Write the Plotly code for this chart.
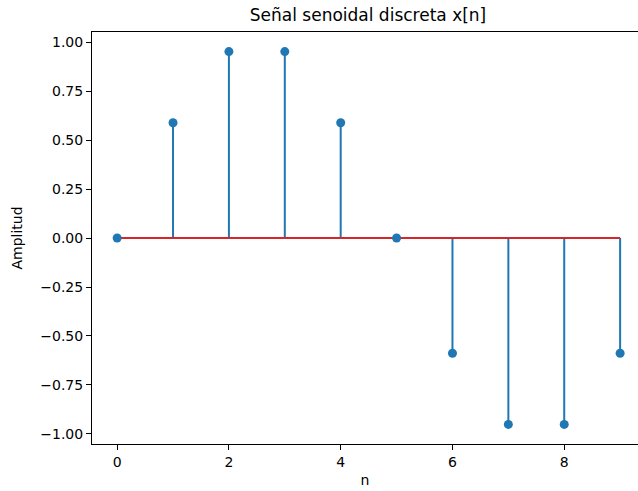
import plotly.graph_objects as go

# Discrete sinusoid samples x[n]
n = [0, 1, 2, 3, 4, 5, 6, 7, 8, 9]
x_n = [0.0, 0.588, 0.951, 0.951, 0.588, 0.0, -0.588, -0.951, -0.951, -0.588]

blue = "#1f77b4"
red = "#d62728"

# Vertical stems from the baseline to each sample
stem_x, stem_y = [], []
for xi, yi in zip(n, x_n):
    stem_x += [xi, xi, None]
    stem_y += [0, yi, None]

fig = go.Figure()
fig.add_trace(go.Scatter(x=stem_x, y=stem_y, mode="lines",
                         line=dict(color=blue, width=2), hoverinfo="skip"))
fig.add_trace(go.Scatter(x=[n[0], n[-1]], y=[0, 0], mode="lines",
                         line=dict(color=red, width=2), hoverinfo="skip"))
fig.add_trace(go.Scatter(x=n, y=x_n, mode="markers",
                         marker=dict(color=blue, size=9)))

font = "DejaVu Sans"
fig.update_layout(
    width=638, height=491,
    margin=dict(l=92, r=0, t=32, b=47),
    paper_bgcolor="white", plot_bgcolor="white",
    showlegend=False,
    font=dict(family=font, size=14, color="black"),
    title=dict(text="Señal senoidal discreta x[n]", xref="container", yref="container",
               x=368 / 638, y=1 - 15 / 491, xanchor="center", yanchor="middle",
               font=dict(family=font, size=17, color="black")),
    xaxis=dict(range=[-0.45, 9.32], tickvals=[0, 2, 4, 6, 8], showgrid=False,
               zeroline=False, showline=True, mirror=True, linecolor="black",
               linewidth=1, ticks="outside", ticklen=5, tickcolor="black",
               title=dict(text="n", standoff=6, font=dict(size=14))),
    yaxis=dict(range=[-1.0511, 1.0511],
               tickvals=[-1.0, -0.75, -0.5, -0.25, 0.0, 0.25, 0.5, 0.75, 1.0],
               tickformat=".2f", showgrid=False, zeroline=False, showline=True,
               mirror=False, linecolor="black", linewidth=1, ticks="outside",
               ticklen=5, tickcolor="black",
               title=dict(text="Amplitud", standoff=14, font=dict(size=14))),
)

fig.write_html("out.html")
